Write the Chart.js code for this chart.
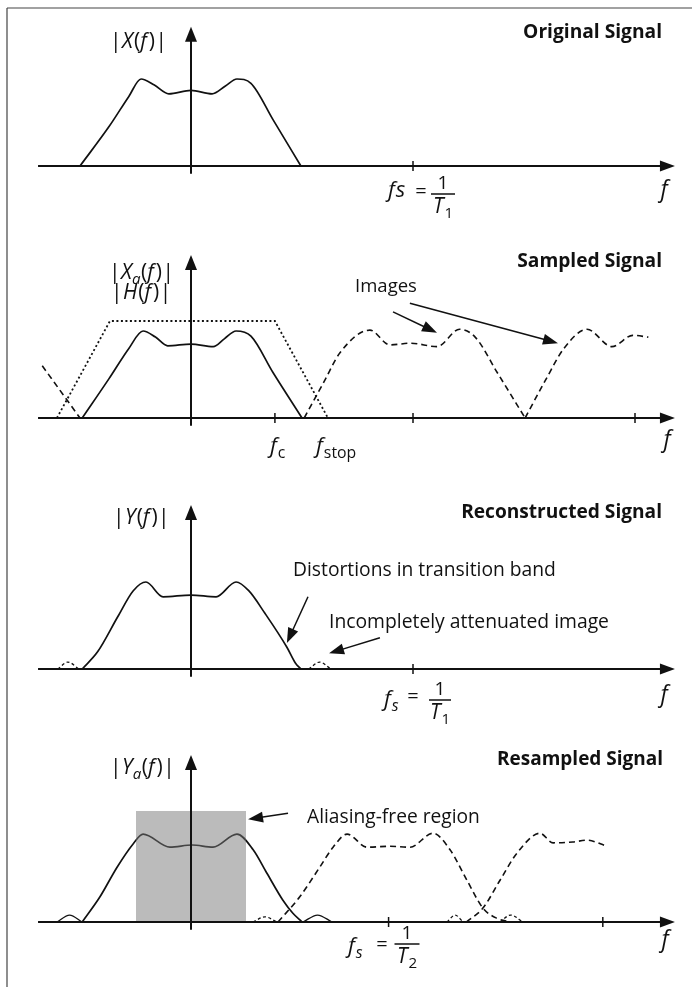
<!DOCTYPE html>
<html>
<head>
<meta charset="utf-8">
<script src="https://cdn.jsdelivr.net/npm/chart.js@4.4.1/dist/chart.umd.min.js"></script>
<style>
html, body { margin: 0; padding: 0; background: #fff; }
#wrap { position: relative; width: 692px; height: 987px; }
</style>
</head>
<body>
<div id="wrap"><canvas id="fig" width="692" height="987"></canvas></div>
<script>
// x in units of f/fs, y in units of the spectrum peak height

// Original signal
const origX = [-0.50, -0.37, -0.28, -0.225, -0.165, -0.10, 0, 0.095, 0.155, 0.207, 0.27, 0.37, 0.495];
const origY = [0, 0.45, 0.80, 1.0, 0.93, 0.83, 0.87, 0.83, 0.92, 1.0, 0.95, 0.53, 0];

// Sampled signal
const sampX = [-0.49, -0.37, -0.28, -0.216, -0.16, -0.105, 0, 0.10, 0.15, 0.203, 0.27, 0.37, 0.50];
const sampY = [0, 0.45, 0.80, 1.0, 0.93, 0.83, 0.85, 0.82, 0.91, 1.0, 0.94, 0.52, 0];
const filterX = [-0.604, -0.365, 0.378, 0.617];
const filterY = [0, 1.115, 1.115, 0];
const imgTailX = [-0.67, -0.5];
const imgTailY = [0.6, 0];
const img1X = [0.51, 0.60, 0.671, 0.806, 0.896, 0.99, 1.108, 1.21, 1.28, 1.38, 1.505];
const img1Y = [0, 0.42, 0.75, 1.01, 0.84, 0.86, 0.82, 1.02, 0.93, 0.52, 0];
const img2X = [1.505, 1.60, 1.68, 1.784, 1.896, 1.99, 2.06];
const img2Y = [0, 0.45, 0.80, 1.02, 0.82, 0.95, 0.93];

// Reconstructed signal
const recX = [-0.49, -0.42, -0.33, -0.26, -0.203, -0.126, 0, 0.113, 0.203, 0.26, 0.333, 0.432, 0.47, 0.495];
const recY = [0, 0.2, 0.6, 0.9, 1.0, 0.83, 0.85, 0.83, 1.0, 0.9, 0.64, 0.25, 0.07, 0];
const recLobeLX = [-0.60, -0.555, -0.505];
const recLobeLY = [0, 0.08, 0];
const recLobeRX = [0.53, 0.58, 0.63];
const recLobeRY = [0, 0.08, 0];

// Resampled signal
const resX = [-0.49, -0.41, -0.333, -0.26, -0.216, -0.095, 0.005, 0.099, 0.207, 0.28, 0.342, 0.414, 0.459, 0.5];
const resY = [0, 0.29, 0.63, 0.9, 1.01, 0.86, 0.885, 0.86, 1.01, 0.83, 0.56, 0.25, 0.10, 0];
const resLobeLX = [-0.604, -0.547, -0.49];
const resLobeLY = [0, 0.08, 0];
const resLobeRX = [0.505, 0.57, 0.635];
const resLobeRY = [0, 0.08, 0];
const resDashLobe1X = [0.28, 0.333, 0.387];
const resDashLobe1Y = [0, 0.06, 0];
const resDashLobe2X = [1.153, 1.19, 1.225];
const resDashLobe2Y = [0, 0.08, 0];
const resDashLobe3X = [1.392, 1.44, 1.495];
const resDashLobe3Y = [0, 0.08, 0];
const resImg1X = [0.392, 0.49, 0.58, 0.64, 0.703, 0.793, 0.896, 0.986, 1.09, 1.167, 1.243, 1.315, 1.38, 1.44];
const resImg1Y = [0, 0.29, 0.63, 0.86, 1.01, 0.86, 0.87, 0.86, 1.02, 0.83, 0.48, 0.16, 0.04, 0];
const resImg2X = [1.24, 1.315, 1.392, 1.468, 1.572, 1.631, 1.72, 1.784, 1.874];
const resImg2Y = [0, 0.16, 0.48, 0.79, 1.02, 0.91, 0.92, 0.94, 0.87];
const shadeX = [-0.248, -0.248, 0.248, 0.248];
const shadeY = [0, 1.276, 1.276, 0];

// tick marks on each f axis
const ticks = [[1.0], [0.378, 1.0, 2.0], [1.0], [0.89, 1.855]];
const axisTop = [1.6, 1.874, 1.885, 1.92];

// annotation arrows [panel, fromX, fromY, toX, toY] in data units
const pointers = [
  [1, 0.91, 1.22, 1.108, 0.98],
  [1, 0.986, 1.32, 1.653, 0.86],
  [2, 0.527, 0.83, 0.432, 0.30],
  [2, 0.851, 0.36, 0.622, 0.18],
  [3, 0.437, 1.25, 0.257, 1.18]
];

const W = 692, H = 987;
const baselines = [166, 418, 669, 922];
const unitY = 87;
const FONT = '"Open Sans", "Liberation Sans", sans-serif';

function pts(xs, ys) { return xs.map((x, i) => ({ x: x, y: ys[i] })); }

function curve(xs, ys, axis, opts) {
  return Object.assign({
    data: pts(xs, ys), yAxisID: axis,
    borderColor: '#111', borderWidth: 1.7, pointRadius: 0,
    cubicInterpolationMode: 'monotone', fill: false
  }, opts || {});
}
const dashed = { borderDash: [6, 4], borderWidth: 1.6 };
const small = { borderDash: [3, 2.5], borderWidth: 1.3 };
const straight = { cubicInterpolationMode: 'default', tension: 0 };

const datasets = [
  curve(shadeX, shadeY, 'y4', Object.assign({ borderWidth: 0, fill: 'origin', backgroundColor: 'rgba(120,120,120,0.5)' }, straight)),
  curve(origX, origY, 'y1'),
  curve(sampX, sampY, 'y2'),
  curve(filterX, filterY, 'y2', Object.assign({ borderDash: [2, 2.5], borderWidth: 1.8 }, straight)),
  curve(imgTailX, imgTailY, 'y2', Object.assign({}, dashed, straight)),
  curve(img1X, img1Y, 'y2', dashed),
  curve(img2X, img2Y, 'y2', dashed),
  curve(recX, recY, 'y3'),
  curve(recLobeLX, recLobeLY, 'y3', small),
  curve(recLobeRX, recLobeRY, 'y3', small),
  curve(resX, resY, 'y4'),
  curve(resLobeLX, resLobeLY, 'y4', { borderWidth: 1.3 }),
  curve(resLobeRX, resLobeRY, 'y4', { borderWidth: 1.3 }),
  curve(resDashLobe1X, resDashLobe1Y, 'y4', small),
  curve(resDashLobe2X, resDashLobe2Y, 'y4', small),
  curve(resDashLobe3X, resDashLobe3Y, 'y4', small),
  curve(resImg1X, resImg1Y, 'y4', dashed),
  curve(resImg2X, resImg2Y, 'y4', dashed)
];

const scales = { x: { type: 'linear', min: -191 / 222, max: 501 / 222, display: false } };
baselines.forEach((b, i) => {
  scales['y' + (i + 1)] = { type: 'linear', display: false, min: -(H - b) / unitY, max: b / unitY };
});

// --- text helpers ---
function fontFor(style, size) {
  const it = style.indexOf('i') >= 0 ? 'italic ' : '';
  const sz = style.indexOf('s') >= 0 ? size * 0.72 : size;
  return it + sz + 'px ' + FONT;
}

// runs: [text, style, extra space after]
function drawRuns(ctx, runs, x, y, size, align) {
  const widths = runs.map(r => { ctx.font = fontFor(r[1], size); return ctx.measureText(r[0]).width + (r[2] || 0); });
  const full = widths.reduce((a, b) => a + b, 0);
  let cx = align === 'center' ? x - full / 2 : x;
  ctx.textBaseline = 'middle';
  ctx.textAlign = 'left';
  runs.forEach((r, i) => {
    ctx.font = fontFor(r[1], size);
    const dy = r[1].indexOf('s') >= 0 ? size * 0.3 : 0;
    ctx.fillText(r[0], cx, y + dy);
    cx += widths[i];
  });
}

function fitText(ctx, text, x, y, target, weight, align) {
  ctx.font = weight + ' 16px ' + FONT;
  const size = 16 * target / ctx.measureText(text).width;
  ctx.font = weight + ' ' + size.toFixed(2) + 'px ' + FONT;
  ctx.textAlign = align;
  ctx.textBaseline = 'middle';
  ctx.fillText(text, x, y);
}

function absLabel(letter, sub) {
  const r = [['|', 'n', 0.5], [letter, 'i', sub ? 0 : 1]];
  if (sub) r.push([sub, 'si', 0.5]);
  return r.concat([['(', 'n', 0], ['f', 'i', 2], [')', 'n', 0.5], ['|', 'n']]);
}

function arrowHead(ctx, x, y, ang, len, half) {
  ctx.beginPath();
  ctx.moveTo(x, y);
  ctx.lineTo(x - len * Math.cos(ang) + half * Math.sin(ang), y - len * Math.sin(ang) - half * Math.cos(ang));
  ctx.lineTo(x - len * Math.cos(ang) - half * Math.sin(ang), y - len * Math.sin(ang) + half * Math.cos(ang));
  ctx.closePath();
  ctx.fill();
}

function seg(ctx, x1, y1, x2, y2, w) {
  ctx.lineWidth = w;
  ctx.beginPath();
  ctx.moveTo(x1, y1);
  ctx.lineTo(x2, y2);
  ctx.stroke();
}

function fraction(ctx, cx, barY, barW, den) {
  seg(ctx, cx - barW / 2, barY, cx + barW / 2, barY, 1.5);
  drawRuns(ctx, [['1', 'n']], cx, barY - 10, 19, 'center');
  drawRuns(ctx, [['T', 'i', 1], [den, 'sn']], cx, barY + 13, 21, 'center');
}

const figure = {
  id: 'figure',
  afterDatasetsDraw(chart) {
    const ctx = chart.ctx;
    const sx = chart.scales.x;
    const X = v => sx.getPixelForValue(v);
    ctx.save();
    ctx.fillStyle = '#111';

    // frame of the scanned page
    ctx.strokeStyle = '#444';
    seg(ctx, 7, 8, W, 8, 1.2);
    seg(ctx, 7, 8, 7, H, 1.2);
    ctx.strokeStyle = '#111';

    baselines.forEach((b, i) => {
      const sy = chart.scales['y' + (i + 1)];
      const Y = v => sy.getPixelForValue(v);
      const y0 = Y(0);
      seg(ctx, X(-0.689), y0, X(2.18) - 10, y0, 2);
      arrowHead(ctx, X(2.18), y0, 0, 15, 5.5);
      seg(ctx, X(0), Y(-0.09), X(0), Y(axisTop[i]) + 10, 2);
      arrowHead(ctx, X(0), Y(axisTop[i]), -Math.PI / 2, 15, 6);
      ticks[i].forEach(t => seg(ctx, X(t), y0 - 5, X(t), y0 + 5, 1.5));
    });

    pointers.forEach(p => {
      const sy = chart.scales['y' + (p[0] + 1)];
      const x1 = X(p[1]), y1 = sy.getPixelForValue(p[2]);
      const x2 = X(p[3]), y2 = sy.getPixelForValue(p[4]);
      const ang = Math.atan2(y2 - y1, x2 - x1);
      seg(ctx, x1, y1, x2 - 10 * Math.cos(ang), y2 - 10 * Math.sin(ang), 1.5);
      arrowHead(ctx, x2, y2, ang, 15, 5.5);
    });

    // titles
    fitText(ctx, 'Original Signal', 662, 33, 139, 'bold', 'right');
    fitText(ctx, 'Sampled Signal', 662, 262, 145, 'bold', 'right');
    fitText(ctx, 'Reconstructed Signal', 662, 513, 201, 'bold', 'right');
    fitText(ctx, 'Resampled Signal', 663, 760, 166, 'bold', 'right');

    // notes
    fitText(ctx, 'Images', 355, 287, 62, 'normal', 'left');
    fitText(ctx, 'Distortions in transition band', 293, 571, 263, 'normal', 'left');
    fitText(ctx, 'Incompletely attenuated image', 329, 622, 280, 'normal', 'left');
    fitText(ctx, 'Aliasing-free region', 307, 818, 173, 'normal', 'left');

    // axis names
    drawRuns(ctx, absLabel('X'), 110, 42, 21);
    drawRuns(ctx, absLabel('X', 'a'), 109, 273, 21);
    drawRuns(ctx, absLabel('H'), 111, 293, 21);
    drawRuns(ctx, absLabel('Y'), 113, 518, 21);
    drawRuns(ctx, absLabel('Y', 'a'), 110, 768, 21);
    [[664, 190], [667, 440], [664, 695], [665, 940]].forEach(p => {
      drawRuns(ctx, [['f', 'i']], p[0], p[1], 23, 'center');
    });

    // frequency labels
    drawRuns(ctx, [['f', 'i', 1], ['s', 'i']], 388, 191, 22);
    drawRuns(ctx, [['=', 'n']], 421, 192, 20, 'center');
    fraction(ctx, 443, 194, 24, '1');

    drawRuns(ctx, [['f', 'i', 1], ['c', 'sn']], 270, 447, 22);
    drawRuns(ctx, [['f', 'i', 1], ['stop', 'sn']], 316, 447, 22);

    drawRuns(ctx, [['f', 'i', 1], ['s', 'si']], 384, 700, 22);
    drawRuns(ctx, [['=', 'n']], 413, 697, 20, 'center');
    fraction(ctx, 440, 700, 22, '1');

    drawRuns(ctx, [['f', 'i', 1], ['s', 'si']], 348, 947, 22);
    drawRuns(ctx, [['=', 'n']], 382, 945, 20, 'center');
    fraction(ctx, 407, 944, 25, '2');

    ctx.restore();
  }
};

new Chart(document.getElementById('fig'), {
  type: 'line',
  data: { datasets: datasets },
  options: {
    responsive: false,
    animation: false,
    devicePixelRatio: 1,
    events: [],
    layout: { padding: 0 },
    scales: scales,
    plugins: { legend: { display: false }, tooltip: { enabled: false } }
  },
  plugins: [figure]
});
</script>
</body>
</html>
